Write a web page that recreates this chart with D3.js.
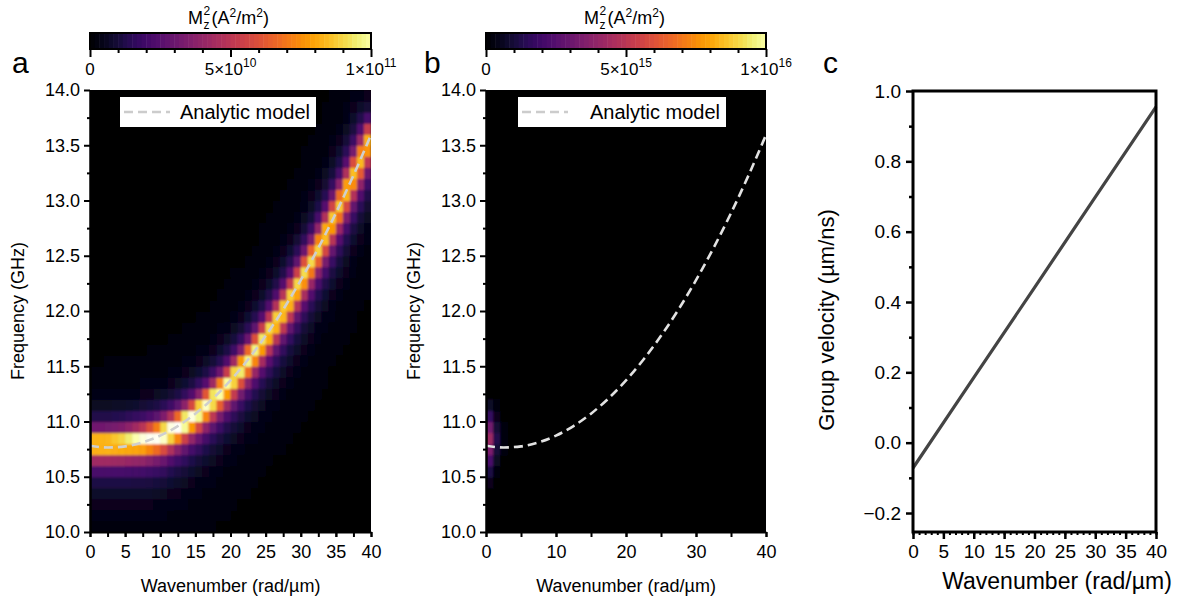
<!DOCTYPE html>
<html>
<head>
<meta charset="utf-8">
<script src="https://cdn.jsdelivr.net/npm/d3@7"></script>
<style>
  body { margin: 0; background: #fff; }
  svg { display: block; }
</style>
</head>
<body>
<svg id="fig" width="1194" height="606"></svg>
<script>
// ---------------- data ----------------
// Analytic dispersion model f(k): wavenumber (rad/µm) -> frequency (GHz)
const modelK = [0, 2.5, 5, 7.5, 10, 12.5, 15, 17.5, 20, 22.5, 25, 27.5, 30, 32.5, 35, 37.5, 40];
const modelF = [10.780, 10.765, 10.775, 10.811, 10.872, 10.959, 11.071, 11.209, 11.372,
                11.561, 11.775, 12.014, 12.279, 12.570, 12.886, 13.227, 13.594];

// Simulated spectrum (panel a): ridge position and peak M_z^2 (units of 1e11 A^2/m^2) at modelK
const ridgeF   = [10.81, 10.81, 10.82, 10.84, 10.88, 10.96, 11.07, 11.21, 11.37,
                  11.56, 11.775, 12.01, 12.28, 12.57, 12.89, 13.23, 13.59];
const ridgeAmp = [0.95, 0.96, 0.99, 1.08, 1.14, 1.12, 1.07, 1.03, 1.00,
                  0.97, 0.95, 0.93, 0.92, 0.90, 0.88, 0.86, 0.84];
const ridgeWidthBelow = 0.16;  // GHz, half width on the low-frequency side
const ridgeWidthAbove = 0.11;  // GHz, half width on the high-frequency side
const ridgeWidthK = 1.1;       // rad/µm, half width along k

// Spectrum bins
const binK = d3.range(0, 40, 1);                      // column left edges, rad/µm
const binF = d3.range(0, 40).map(i => 10 + i * 0.1);  // row lower edges, GHz
const binDK = 1, binDF = 0.1;

// Simulated spectrum (panel b): only a weak patch near k = 0 (units of 1e16 A^2/m^2)
const bColK = [0, 1, 2];
const bRowF = [10.4, 10.5, 10.6, 10.7, 10.8, 10.9, 11.0, 11.1];
const bVals = [
  [0.05, 0.12, 0.22, 0.34, 0.42, 0.32, 0.17, 0.07],
  [0.01, 0.03, 0.06, 0.10, 0.13, 0.09, 0.05, 0.02],
  [0.00, 0.01, 0.01, 0.02, 0.03, 0.02, 0.01, 0.00]
];

// Group velocity (panel c)
const gvK = [0, 10, 20, 30, 40];
const gv  = [-0.072, 0.185, 0.441, 0.698, 0.955];

// Ticks
const freqTicks  = [10.0, 10.5, 11.0, 11.5, 12.0, 12.5, 13.0, 13.5, 14.0];
const freqMinor  = [10.25, 10.75, 11.25, 11.75, 12.25, 12.75, 13.25, 13.75];
const kTicksA    = [0, 2.5, 5, 7.5, 10, 12.5, 15, 17.5, 20, 22.5, 25, 27.5, 30, 32.5, 35, 37.5, 40];
const kLabelsA   = [0, 5, 10, 15, 20, 25, 30, 35, 40];
const kTicksB    = [0, 5, 10, 15, 20, 25, 30, 35, 40];
const kLabelsB   = [0, 10, 20, 30, 40];
const gvTicks    = [-0.2, 0.0, 0.2, 0.4, 0.6, 0.8, 1.0];
const gvMinor    = [-0.1, 0.1, 0.3, 0.5, 0.7, 0.9];
const kTicksC    = [0, 5, 10, 15, 20, 25, 30, 35, 40];
const kMinorC    = d3.range(0, 41, 1);
const cbTicks    = [0, 0.1, 0.2, 0.3, 0.4, 0.5, 0.6, 0.7, 0.8, 0.9, 1.0];  // fraction of max

// ---------------- drawing ----------------
const FONT = '"Liberation Sans", Arial, Helvetica, sans-serif';
const svg = d3.select("#fig");
const defs = svg.append("defs");

const blur = defs.append("filter").attr("id", "soft")
  .attr("x", 0).attr("y", 0).attr("width", 1).attr("height", 1);
blur.append("feGaussianBlur").attr("stdDeviation", 1.3).attr("edgeMode", "duplicate");

function inferno(v) {
  if (v <= 1) return d3.interpolateInferno(Math.max(0, v));
  return d3.interpolateRgb("#fcffa4", "#ffffff")(Math.min(1, (v - 1) / 0.12));
}

function styleAxis(g, fs, sw) {
  g.attr("font-family", FONT).attr("font-size", fs);
  g.selectAll(".domain").attr("stroke", "#000").attr("stroke-width", sw);
  g.selectAll(".tick line").attr("stroke", "#000").attr("stroke-width", sw);
  g.selectAll(".tick text").attr("fill", "#000");
  return g;
}

function addText(x, y, str, fs, anchor, rot) {
  const t = svg.append("text").attr("font-family", FONT).attr("font-size", fs)
    .attr("text-anchor", anchor || "middle").attr("fill", "#000").text(str);
  if (rot) t.attr("transform", `translate(${x},${y}) rotate(${rot})`);
  else t.attr("x", x).attr("y", y);
  return t;
}

// ridge centre at wavenumber k (linear between tabulated points)
const ridgeAt = d3.scaleLinear().domain(modelK).range(ridgeF).clamp(true);

// nearest normalised distance from (k,f) to the ridge polyline; returns [d2, amp]
function ridgeDistance(k, f) {
  const wF = f < ridgeAt(k) ? ridgeWidthBelow : ridgeWidthAbove;
  let best = Infinity, amp = 0;
  const px = k / ridgeWidthK, py = f / wF;
  for (let i = 0; i < modelK.length - 1; i++) {
    const ax = modelK[i] / ridgeWidthK, ay = ridgeF[i] / wF;
    const bx = modelK[i + 1] / ridgeWidthK, by = ridgeF[i + 1] / wF;
    const dx = bx - ax, dy = by - ay;
    let t = ((px - ax) * dx + (py - ay) * dy) / (dx * dx + dy * dy);
    t = Math.max(0, Math.min(1, t));
    const qx = ax + t * dx, qy = ay + t * dy;
    const d2 = (px - qx) ** 2 + (py - qy) ** 2;
    if (d2 < best) { best = d2; amp = ridgeAmp[i] + t * (ridgeAmp[i + 1] - ridgeAmp[i]); }
  }
  return [best, amp];
}

// ---- colour bar ----
function colorBar(x0, x1, maxVal, expMid, expMax, cx) {
  const s = d3.scaleLinear().domain([0, maxVal]).range([x0, x1]);
  const nSteps = 60;
  const steps = d3.range(nSteps).map(i => i * maxVal / nSteps);
  svg.append("g").selectAll("rect").data(steps).join("rect")
    .attr("x", d => s(d)).attr("y", 33)
    .attr("width", s(maxVal / nSteps) - s(0) + 0.5).attr("height", 16)
    .attr("fill", d => d3.interpolateInferno((d + maxVal / nSteps / 2) / maxVal));
  svg.append("rect").attr("x", x0).attr("y", 33).attr("width", x1 - x0).attr("height", 16)
    .attr("fill", "none").attr("stroke", "#000").attr("stroke-width", 2);
  const ax = svg.append("g").attr("transform", "translate(0,49)")
    .call(d3.axisBottom(s).tickValues(cbTicks.map(v => v * maxVal)).tickSize(4).tickFormat("").tickSizeOuter(0));
  styleAxis(ax, 17, 2);
  ax.select(".domain").remove();
  ax.selectAll(".tick line").attr("y2", d => {
    const r = d / maxVal;
    return (r < 1e-9 || Math.abs(r - 0.5) < 1e-9 || Math.abs(r - 1) < 1e-9) ? 8 : 4;
  });
  const labels = [[0, "0", null], [0.5 * maxVal, "5×10", expMid], [maxVal, "1×10", expMax]];
  labels.forEach(([v, base, ex]) => {
    const t = addText(s(v), 75, base, 17, "middle");
    if (ex) t.append("tspan").attr("dy", -8).attr("font-size", 12).text(ex);
  });
  // title  M_z^2 (A^2/m^2): "M" with a stacked superscript 2 and subscript z
  const main = svg.append("text").attr("font-family", FONT).attr("font-size", 18)
    .attr("text-anchor", "start").attr("x", cx - 41).attr("y", 24).attr("fill", "#000");
  main.append("tspan").text("M");
  const mx = cx - 41 + 15.5;
  svg.append("text").attr("font-family", FONT).attr("font-size", 12).attr("fill", "#000")
    .attr("x", mx).attr("y", 15).text("2");
  svg.append("text").attr("font-family", FONT).attr("font-size", 12).attr("fill", "#000")
    .attr("x", mx).attr("y", 29).text("z");
  const rest = svg.append("text").attr("font-family", FONT).attr("font-size", 18)
    .attr("text-anchor", "start").attr("x", mx + 8).attr("y", 24).attr("fill", "#000");
  rest.append("tspan").text("(A");
  rest.append("tspan").attr("dy", -7).attr("font-size", 12).text("2");
  rest.append("tspan").attr("dy", 7).text("/m");
  rest.append("tspan").attr("dy", -7).attr("font-size", 12).text("2");
  rest.append("tspan").attr("dy", 7).text(")");
}
colorBar(90, 371, 1e11, "10", "11", 229);
colorBar(486, 766, 1e16, "15", "16", 625);

// ---- spectrum panels ----
function spectrumPanel(id, x0, x1, cells, kTicks, kLabels, legendX, legendW, legendTextX, dashColor) {
  const xs = d3.scaleLinear().domain([0, 40]).range([x0, x1]);
  const ys = d3.scaleLinear().domain([10, 14]).range([532, 90]);

  defs.append("clipPath").attr("id", "clip" + id).append("rect")
    .attr("x", x0).attr("y", 90).attr("width", x1 - x0).attr("height", 442);

  const outer = svg.append("g").attr("clip-path", `url(#clip${id})`);
  outer.append("rect").attr("x", x0).attr("y", 90).attr("width", x1 - x0).attr("height", 442)
    .attr("fill", d3.interpolateInferno(0));
  const heat = outer.append("g").attr("filter", "url(#soft)");
  heat.append("rect").attr("x", x0).attr("y", 90).attr("width", x1 - x0).attr("height", 442)
    .attr("fill", d3.interpolateInferno(0));
  heat.selectAll("rect.cell").data(cells).join("rect").attr("class", "cell")
    .attr("x", d => xs(d.k)).attr("y", d => ys(d.f + d.df))
    .attr("width", d => xs(d.k + d.dk) - xs(d.k) + 0.6)
    .attr("height", d => ys(d.f) - ys(d.f + d.df) + 0.6)
    .attr("fill", d => inferno(d.v));

  // analytic model
  const line = d3.line().x((d, i) => xs(modelK[i])).y(d => ys(d)).curve(d3.curveMonotoneX);
  outer.append("path").attr("d", line(modelF)).attr("fill", "none")
    .attr("stroke", dashColor).attr("stroke-width", 2.6).attr("stroke-dasharray", "9,5");

  // legend
  svg.append("rect").attr("x", legendX).attr("y", 97).attr("width", legendW).attr("height", 30).attr("fill", "#fff");
  svg.append("line").attr("x1", legendX + 4).attr("x2", legendX + 50).attr("y1", 112).attr("y2", 112)
    .attr("stroke", "#cccccc").attr("stroke-width", 2.6).attr("stroke-dasharray", "9,5");
  addText(legendTextX, 119, "Analytic model", 20, "start");

  // axes
  const yMin = svg.append("g").attr("transform", `translate(${x0},0)`)
    .call(d3.axisLeft(ys).tickValues(freqMinor).tickSize(3).tickFormat("").tickSizeOuter(0));
  styleAxis(yMin, 17, 2);
  const yMaj = svg.append("g").attr("transform", `translate(${x0},0)`)
    .call(d3.axisLeft(ys).tickValues(freqTicks).tickSize(6).tickPadding(4).tickFormat(d3.format(".1f")).tickSizeOuter(0));
  styleAxis(yMaj, 18, 2);

  const xTk = svg.append("g").attr("transform", "translate(0,532)")
    .call(d3.axisBottom(xs).tickValues(kTicks).tickSize(5).tickFormat("").tickSizeOuter(0));
  styleAxis(xTk, 18, 2);
  const xLb = svg.append("g").attr("transform", "translate(0,532)")
    .call(d3.axisBottom(xs).tickValues(kLabels).tickSize(5).tickPadding(8).tickFormat(d3.format("d")).tickSizeOuter(0));
  styleAxis(xLb, 18, 2);
  xLb.select(".domain").remove();

  addText((x0 + x1) / 2, 592, "Wavenumber (rad/µm)", 18, "middle");
  addText(x0 - 66, 311, "Frequency (GHz)", 18, "middle", -90);
}

// panel a cells
const cellsA = [];
binK.forEach(k => binF.forEach(f => {
  const [d2, amp] = ridgeDistance(k + binDK / 2, f + binDF / 2);
  cellsA.push({ k, f, dk: binDK, df: binDF, v: amp / Math.pow(1 + d2, 1.15) });
}));
spectrumPanel("a", 90, 371, cellsA, kTicksA, kLabelsA, 120, 196, 180, "#cfcfcf");

// panel b cells
const cellsB = [];
bColK.forEach((k, i) => bRowF.forEach((f, j) => {
  cellsB.push({ k, f, dk: 1, df: 0.1, v: bVals[i][j] });
}));
spectrumPanel("b", 486, 766, cellsB, kTicksB, kLabelsB, 518, 208, 590, "#e2e2e2");

// ---- panel c: group velocity ----
{
  const x0 = 913, x1 = 1156, yT = 91, yB = 532;
  const xs = d3.scaleLinear().domain([0, 40]).range([x0, x1]);
  const ys = d3.scaleLinear().domain([-0.254, 1.0]).range([yB, yT]);

  const line = d3.line().x((d, i) => xs(gvK[i])).y(d => ys(d));
  svg.append("path").attr("d", line(gv)).attr("fill", "none")
    .attr("stroke", "#444").attr("stroke-width", 3.2);

  svg.append("rect").attr("x", x0).attr("y", yT).attr("width", x1 - x0).attr("height", yB - yT)
    .attr("fill", "none").attr("stroke", "#000").attr("stroke-width", 3);

  const yMin = svg.append("g").attr("transform", `translate(${x0},0)`)
    .call(d3.axisLeft(ys).tickValues(gvMinor).tickSize(4).tickFormat("").tickSizeOuter(0));
  styleAxis(yMin, 19, 2.5);
  yMin.select(".domain").remove();
  const yMaj = svg.append("g").attr("transform", `translate(${x0},0)`)
    .call(d3.axisLeft(ys).tickValues(gvTicks).tickSize(7).tickPadding(5)
      .tickFormat(d => d3.format(".1f")(d).replace("-", "−")).tickSizeOuter(0));
  styleAxis(yMaj, 19, 2.5);
  yMaj.select(".domain").remove();

  const xMin = svg.append("g").attr("transform", `translate(0,${yB})`)
    .call(d3.axisBottom(xs).tickValues(kMinorC).tickSize(3).tickFormat("").tickSizeOuter(0));
  styleAxis(xMin, 19, 2);
  xMin.select(".domain").remove();
  const xMaj = svg.append("g").attr("transform", `translate(0,${yB})`)
    .call(d3.axisBottom(xs).tickValues(kTicksC).tickSize(7).tickPadding(6).tickFormat(d3.format("d")).tickSizeOuter(0));
  styleAxis(xMaj, 19, 2.5);
  xMaj.select(".domain").remove();

  addText(1057, 589, "Wavenumber (rad/µm)", 23, "middle");
  addText(834, 320, "Group velocity (µm/ns)", 22, "middle", -90);
}

// panel letters
addText(12, 73, "a", 30, "start");
addText(424, 73, "b", 30, "start");
addText(823, 73, "c", 30, "start");
</script>
</body>
</html>
